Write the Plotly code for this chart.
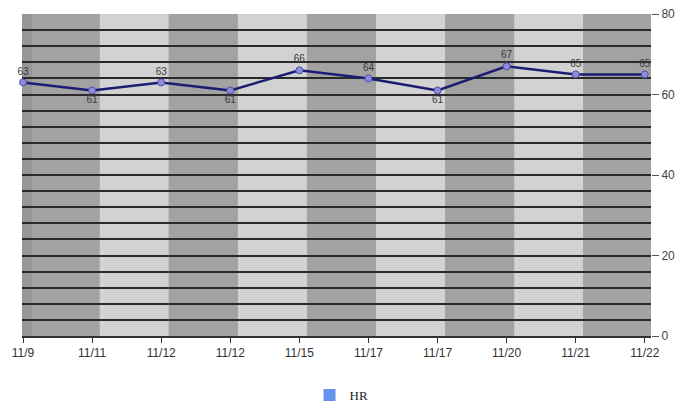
import plotly.graph_objects as go

# Heart-rate readings by date
dates = ["11/9", "11/11", "11/12", "11/12", "11/15", "11/17", "11/17", "11/20", "11/21", "11/22"]
hr = [63, 61, 63, 61, 66, 64, 61, 67, 65, 65]
label_pos = ["top center", "bottom center", "top center", "bottom center", "top center",
             "top center", "bottom center", "top center", "top center", "top center"]

x = list(range(len(dates)))
x_lo, x_hi = -0.015, len(dates) - 1 + 0.09

dark_band = "#a2a2a2"
light_band = "#d2d2d2"

# Alternating vertical bands behind the grid
shapes = []
edges = [x_lo] + [i + 0.11 for i in range(1, len(dates) - 1)] + [x_hi]
for k in range(len(edges) - 1):
    shapes.append(dict(type="rect", xref="x", yref="paper",
                       x0=edges[k], x1=edges[k + 1], y0=0, y1=1,
                       fillcolor=dark_band if k % 2 == 0 else light_band,
                       line=dict(width=0), layer="below"))
# slightly darker strip along the left edge
shapes.append(dict(type="rect", xref="x", yref="paper", x0=x_lo, x1=0.13, y0=0, y1=1,
                   fillcolor="#979797", line=dict(width=0), layer="below"))

fig = go.Figure()
fig.add_trace(go.Scatter(
    x=x, y=hr, mode="lines+markers+text", name="HR",
    text=[str(v) for v in hr], textposition=label_pos,
    textfont=dict(family="Arial, Liberation Sans, sans-serif", size=10, color="#3a3a3a"),
    line=dict(color="#1c1c72", width=2.5),
    marker=dict(size=7, color="#8c8cd8", line=dict(color="#5050b0", width=1)),
    cliponaxis=False,
    showlegend=False,
))
# legend entry shown as a square
fig.add_trace(go.Scatter(
    x=[None], y=[None], mode="markers", name="HR",
    marker=dict(symbol="square", size=9, color="#6495ed"),
))

fig.update_layout(
    width=675, height=405,
    margin=dict(l=22, r=24, t=14, b=69, autoexpand=False),
    paper_bgcolor="white", plot_bgcolor=dark_band,
    shapes=shapes,
    showlegend=True,
    legend=dict(orientation="h", x=0.508, xanchor="center", y=-0.183, yanchor="middle",
                font=dict(family="Liberation Serif, serif", size=13, color="#222"),
                itemsizing="constant"),
    xaxis=dict(
        range=[x_lo, x_hi], tickmode="array", tickvals=x, ticktext=dates,
        showgrid=False, zeroline=False, automargin=False,
        ticks="outside", ticklen=5, tickcolor="#333",
        showline=True, linecolor="#333", linewidth=1.5,
        tickfont=dict(family="Arial, Liberation Sans, sans-serif", size=12, color="#333"),
    ),
    yaxis=dict(
        side="right", range=[0, 80], tickvals=[0, 20, 40, 60, 80],
        showgrid=True, gridcolor="#2a2a2a", gridwidth=1.5,
        zeroline=False, automargin=False, ticks="outside", ticklen=7, tickcolor="#555",
        tickfont=dict(family="Arial, Liberation Sans, sans-serif", size=12, color="#444"),
        minor=dict(dtick=4, showgrid=True, gridcolor="#2a2a2a", gridwidth=1.5),
    ),
)

fig.write_html("out.html")
